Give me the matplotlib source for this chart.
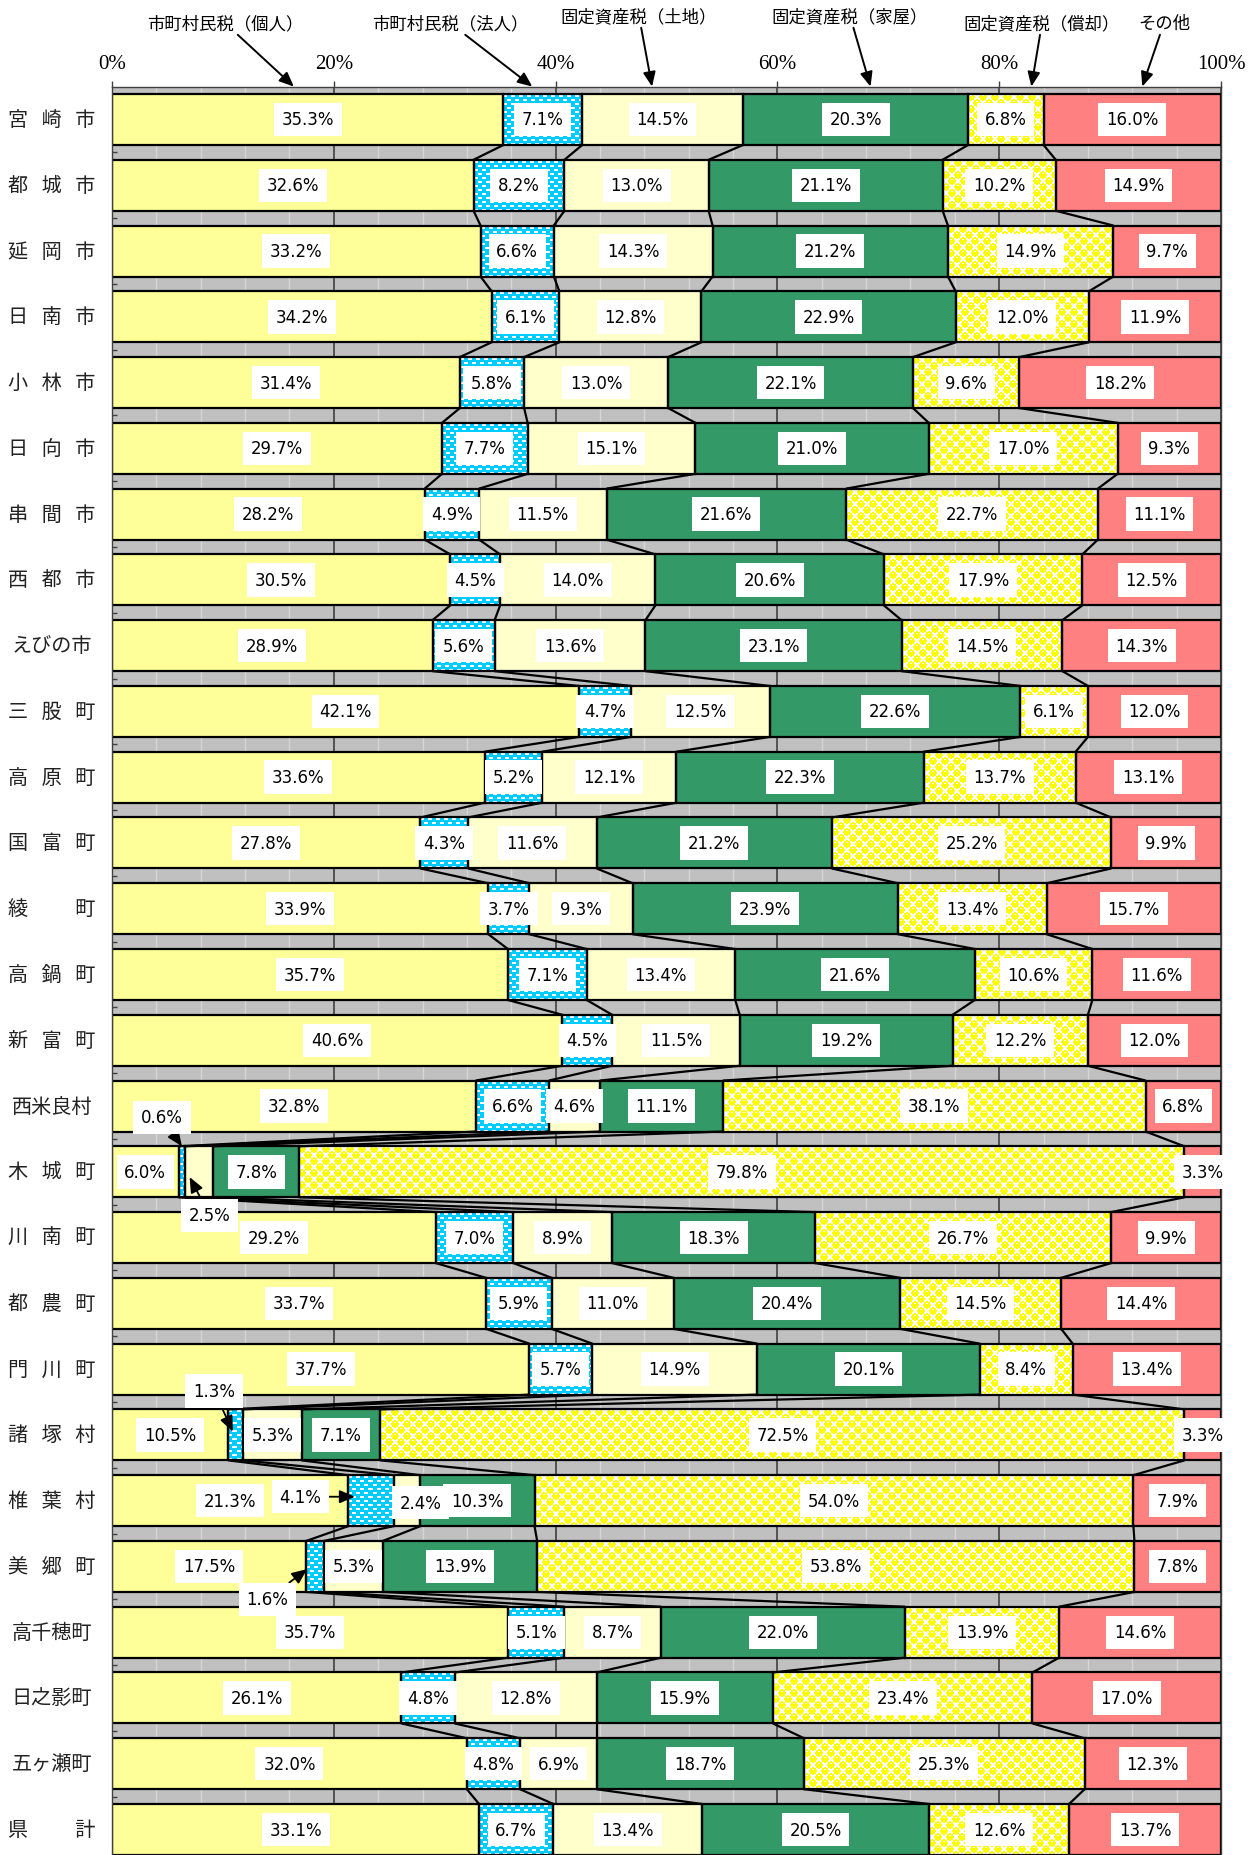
import numpy as np
import matplotlib.pyplot as plt
from matplotlib import font_manager

plt.rcParams['font.family'] = ['Noto Sans CJK JP', 'DejaVu Sans']

# 市町村別 税収構成比 (%)
areas = ['宮崎市', '都城市', '延岡市', '日南市', '小林市', '日向市', '串間市', '西都市',
         'えびの市', '三股町', '高原町', '国富町', '綾町', '高鍋町', '新富町', '西米良村',
         '木城町', '川南町', '都農町', '門川町', '諸塚村', '椎葉村', '美郷町', '高千穂町',
         '日之影町', '五ヶ瀬町', '県計']
series = ['市町村民税（個人）', '市町村民税（法人）', '固定資産税（土地）',
          '固定資産税（家屋）', '固定資産税（償却）', 'その他']

kojin = [35.3, 32.6, 33.2, 34.2, 31.4, 29.7, 28.2, 30.5, 28.9, 42.1, 33.6, 27.8, 33.9, 35.7,
         40.6, 32.8, 6.0, 29.2, 33.7, 37.7, 10.5, 21.3, 17.5, 35.7, 26.1, 32.0, 33.1]
houjin = [7.1, 8.2, 6.6, 6.1, 5.8, 7.7, 4.9, 4.5, 5.6, 4.7, 5.2, 4.3, 3.7, 7.1,
          4.5, 6.6, 0.6, 7.0, 5.9, 5.7, 1.3, 4.1, 1.6, 5.1, 4.8, 4.8, 6.7]
tochi = [14.5, 13.0, 14.3, 12.8, 13.0, 15.1, 11.5, 14.0, 13.6, 12.5, 12.1, 11.6, 9.3, 13.4,
         11.5, 4.6, 2.5, 8.9, 11.0, 14.9, 5.3, 2.4, 5.3, 8.7, 12.8, 6.9, 13.4]
kaoku = [20.3, 21.1, 21.2, 22.9, 22.1, 21.0, 21.6, 20.6, 23.1, 22.6, 22.3, 21.2, 23.9, 21.6,
         19.2, 11.1, 7.8, 18.3, 20.4, 20.1, 7.1, 10.3, 13.9, 22.0, 15.9, 18.7, 20.5]
shoukyaku = [6.8, 10.2, 14.9, 12.0, 9.6, 17.0, 22.7, 17.9, 14.5, 6.1, 13.7, 25.2, 13.4, 10.6,
             12.2, 38.1, 79.8, 26.7, 14.5, 8.4, 72.5, 54.0, 53.8, 13.9, 23.4, 25.3, 12.6]
sonota = [16.0, 14.9, 9.7, 11.9, 18.2, 9.3, 11.1, 12.5, 14.3, 12.0, 13.1, 9.9, 15.7, 11.6,
          12.0, 6.8, 3.3, 9.9, 14.4, 13.4, 3.3, 7.9, 7.8, 14.6, 17.0, 12.3, 13.7]

colors = ['#ffff99', '#00ccff', '#ffffcc', '#339966', '#ffff00', '#ff8080']

values = np.array([kojin, houjin, tochi, kaoku, shoukyaku, sonota]).T
share = values / values.sum(axis=1, keepdims=True) * 100
cum = np.hstack([np.zeros((len(areas), 1)), np.cumsum(share, axis=1)])
n = len(areas)
ypos = np.arange(n)

# a narrow sans for the value labels, whichever is installed
num_font = dict(family='Liberation Sans', fontsize=12.2)
for fam, st in [('Liberation Sans Narrow', 'normal'), ('DejaVu Sans', 'condensed')]:
    try:
        path = font_manager.findfont(font_manager.FontProperties(family=fam, stretch=st),
                                     fallback_to_default=False)
        if 'Narrow' in path or 'Condensed' in path:
            num_font = dict(fname=path)
            break
    except ValueError:
        pass
if 'fname' in num_font:
    fp = font_manager.FontProperties(fname=num_font['fname'], size=13.2)
    num_font = dict(fontproperties=fp)

W, H = 1254, 1856
ROW = 65.77
BAR_H = 0.775
hb = BAR_H / 2

fig = plt.figure(figsize=(W / 100, H / 100), dpi=100)
ax = fig.add_axes([112 / W, 0, 1109 / W, (n - 0.5 + hb) * ROW / H])
ax.set_xlim(0, 100)
ax.set_ylim(n - 1 + hb, -0.5)
ax.set_facecolor('#c0c0c0')

# grid and ticks
ax.set_xticks(range(0, 101, 20))
ax.set_xticks(range(0, 101, 4), minor=True)
ax.set_xticklabels([f'{t}%' for t in range(0, 101, 20)], family='Liberation Serif',
                   fontsize=15)
ax.grid(axis='x', which='minor', color='#d6d6d6', lw=1)
ax.grid(axis='x', which='major', color='#404040', lw=1.2)
ax.set_axisbelow(True)
ax.xaxis.tick_top()
ax.tick_params(axis='x', which='major', direction='out', length=4.5, width=1,
               color='#404040', pad=5)
ax.tick_params(axis='x', which='minor', length=0)
ax.set_yticks([])
ax.set_yticks(np.arange(0.5, n - 1, 1), minor=True)
ax.tick_params(axis='y', which='minor', direction='in', length=3.6, width=1,
               color='#404040')
for s in ax.spines.values():
    s.set_color('#404040')
    s.set_linewidth(1)

# bars
for j in range(6):
    ax.barh(ypos, share[:, j], left=cum[:, j], height=BAR_H, color=colors[j],
            lw=0, zorder=2)


def tile_dash():
    t = np.ones((8, 8, 3))
    t[:] = np.array([0, 204, 255]) / 255
    t[1:3, 0:4] = 1
    t[5:7, 4:8] = 1
    return t


def tile_ball():
    t = np.ones((12, 12, 3))
    yy, xx = np.mgrid[0:12, 0:12] + 0.5
    for cx, cy in [(3, 3), (9, 9), (-3, 9), (15, 3), (9, -3), (3, 15)]:
        m = (xx - cx) ** 2 + (yy - cy) ** 2 <= 3.7 ** 2
        t[m] = np.array([255, 255, 0]) / 255
    t[1, 2:4] = 1
    t[7, 8:10] = 1
    return t


tiles = {1: tile_dash(), 4: tile_ball()}
for j, tile in tiles.items():
    for i in range(n):
        l, r = cum[i, j], cum[i, j + 1]
        x0, y0 = ax.transData.transform((l, i - hb))
        x1, y1 = ax.transData.transform((r, i + hb))
        nx = max(1, int(round(abs(x1 - x0))))
        ny = max(1, int(round(abs(y1 - y0))))
        img = np.tile(tile, (ny // tile.shape[0] + 1, nx // tile.shape[1] + 1, 1))[:ny, :nx]
        ax.imshow(img, extent=(l, r, i + hb, i - hb), interpolation='nearest',
                  aspect='auto', zorder=2.1)

for j in range(6):
    ax.barh(ypos, share[:, j], left=cum[:, j], height=BAR_H, facecolor='none',
            edgecolor='black', lw=1.6, zorder=2.2)

# series lines between bars
for i in range(n - 1):
    for k in range(1, 6):
        ax.plot([cum[i, k], cum[i + 1, k]], [i + hb, i + 1 - hb], color='black',
                lw=1.6, zorder=3, solid_capstyle='butt')

ax.set_xlim(0, 100)
ax.set_ylim(n - 1 + hb, -0.5)

# value labels
box = dict(boxstyle='square,pad=0.42', fc='white', ec='none')
outside = {  # (row, series): text x, text y, arrow x, arrow y
    (16, 1): (4.5, 15.17, 6.3, 16 - hb),
    (16, 2): (8.8, 16.66, 7.0, 16.08),
    (20, 1): (9.2, 19.33, 10.9, 19.95),
    (21, 1): (17.0, 20.94, 21.9, 20.94),
    (22, 1): (14.0, 22.5, 17.6, 22.04),
}
shifted = {(21, 2): (27.8, 21.03)}
for i in range(n):
    for j in range(6):
        txt = f'{values[i, j]:.1f}%'
        if (i, j) in outside:
            tx, ty, axx, ayy = outside[(i, j)]
            ax.annotate(txt, xy=(axx, ayy), xytext=(tx, ty), ha='center', va='center',
                        bbox=box, zorder=6, annotation_clip=False,
                        arrowprops=dict(arrowstyle='-|>,head_length=0.7,head_width=0.3',
                                        color='black', lw=1.3, shrinkA=0, shrinkB=0),
                        **num_font)
            continue
        tx, ty = shifted.get((i, j), ((cum[i, j] + cum[i, j + 1]) / 2, i))
        ax.text(tx, ty, txt, ha='center', va='center', bbox=box, zorder=5,
                clip_on=False, **num_font)

# row labels
for i, name in enumerate(areas):
    if len(name) == 3:
        lab = '   '.join(name)
    elif len(name) == 2:
        lab = name[0] + '   \u3000   ' + name[1]
    else:
        lab = name
    fy = ax.transData.transform((0, i))[1]
    fig.text(52 / W, fy / H, lab, ha='center', va='center', fontsize=14.5,
             color='#222222')

# series captions with arrows
head_x = [16.4, 37.9, 48.7, 68.4, 82.9, 92.9]
cap_xy = [(225, 24), (450, 24), (639, 17), (850, 17), (1042, 24), (1164, 24)]
for name, hx, (cx, cy) in zip(series, head_x, cap_xy):
    ax.annotate(name, xy=(hx, 1.0), xycoords=ax.get_xaxis_transform(),
                xytext=(cx, H - cy), textcoords='figure pixels', ha='center', va='center',
                fontsize=12.5, annotation_clip=False,
                arrowprops=dict(arrowstyle='-|>,head_length=0.7,head_width=0.3',
                                color='black', lw=1.4, shrinkA=0, shrinkB=0))

fig.savefig('out.png', dpi=100)
